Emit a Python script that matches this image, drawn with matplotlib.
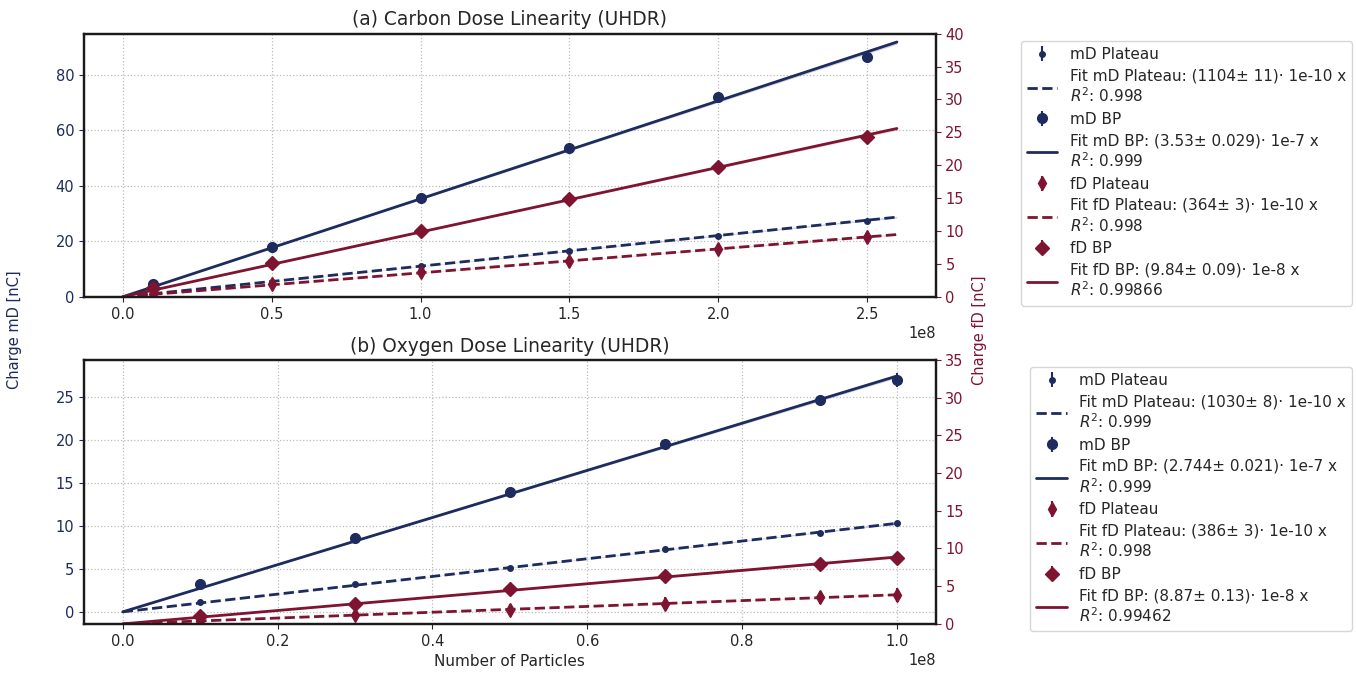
import numpy as np
import matplotlib
matplotlib.use("Agg")
import matplotlib.pyplot as plt
import seaborn as sns

sns.set_style("ticks")
plt.rcParams['font.family'] = ['DejaVu Sans']

BLUE = '#1d2b5f'
RED = '#7f1431'

# ---- (a) Carbon ----
c_x = np.array([0.1, 0.5, 1.0, 1.5, 2.0, 2.5]) * 1e8
c_md_plat = [1.1, 5.5, 11.0, 16.6, 22.0, 27.3]
c_md_plat_err = [0.1, 0.2, 0.3, 0.4, 0.5, 0.6]
c_md_bp = [4.5, 18.0, 35.7, 53.5, 72.0, 86.5]
c_md_bp_err = [0.3, 0.5, 0.8, 1.0, 1.2, 1.5]
c_fd_plat = [0.5, 1.9, 3.7, 5.5, 7.3, 9.1]
c_fd_plat_err = [0.2, 0.4, 0.4, 0.5, 0.5, 0.6]
c_fd_bp = [1.3, 5.2, 10.0, 14.8, 19.8, 24.3]
c_fd_bp_err = [0.3, 0.4, 0.5, 0.5, 0.6, 0.7]
c_fit_xmax = 2.6e8
c_fits = {  # slope, slope error, legend text
    'md_plat': (1104e-10, 11e-10, 'Fit mD Plateau: (1104± 11)· 1e-10 x\n$R^2$: 0.998'),
    'md_bp': (3.53e-7, 0.029e-7, 'Fit mD BP: (3.53± 0.029)· 1e-7 x\n$R^2$: 0.999'),
    'fd_plat': (364e-10, 3e-10, 'Fit fD Plateau: (364± 3)· 1e-10 x\n$R^2$: 0.998'),
    'fd_bp': (9.84e-8, 0.09e-8, 'Fit fD BP: (9.84± 0.09)· 1e-8 x\n$R^2$: 0.99866'),
}

# ---- (b) Oxygen ----
o_x = np.array([0.1, 0.3, 0.5, 0.7, 0.9, 1.0]) * 1e8
o_md_plat = [1.1, 3.2, 5.1, 7.3, 9.2, 10.3]
o_md_plat_err = [0.05, 0.08, 0.1, 0.12, 0.15, 0.15]
o_md_bp = [3.2, 8.6, 13.9, 19.5, 24.6, 27.0]
o_md_bp_err = [0.2, 0.3, 0.3, 0.4, 0.4, 0.8]
o_fd_plat = [0.4, 1.2, 1.9, 2.7, 3.5, 3.8]
o_fd_plat_err = [0.6, 0.7, 0.7, 0.8, 0.8, 0.9]
o_fd_bp = [1.0, 2.7, 4.6, 6.3, 7.9, 8.7]
o_fd_bp_err = [0.3, 0.4, 0.4, 0.5, 0.5, 0.5]
o_fit_xmax = 1.0e8
o_fits = {
    'md_plat': (1030e-10, 8e-10, 'Fit mD Plateau: (1030± 8)· 1e-10 x\n$R^2$: 0.999'),
    'md_bp': (2.744e-7, 0.021e-7, 'Fit mD BP: (2.744± 0.021)· 1e-7 x\n$R^2$: 0.999'),
    'fd_plat': (386e-10, 3e-10, 'Fit fD Plateau: (386± 3)· 1e-10 x\n$R^2$: 0.998'),
    'fd_bp': (8.87e-8, 0.13e-8, 'Fit fD BP: (8.87± 0.13)· 1e-8 x\n$R^2$: 0.99462'),
}


def fit_line(ax, xmax, fit, color, ls):
    k, dk, lab = fit
    xx = np.linspace(0, xmax, 100)
    ax.fill_between(xx, (k - dk) * xx, (k + dk) * xx, color=color, alpha=0.2, lw=0)
    return ax.plot(xx, k * xx, color=color, ls=ls, lw=2, label=lab)[0]


def panel(ax, x, mdp, mdpe, mdb, mdbe, fdp, fdpe, fdb, fdbe, xmax, fits,
          ylim_l, ylim_r, yticks_l, title, legend_top):
    ax2 = ax.twinx()
    h = []
    h.append(ax.errorbar(x, mdp, yerr=mdpe, fmt='o', ms=4, color=BLUE, label='mD Plateau'))
    h.append(fit_line(ax, xmax, fits['md_plat'], BLUE, '--'))
    h.append(ax.errorbar(x, mdb, yerr=mdbe, fmt='o', ms=7, color=BLUE, label='mD BP'))
    h.append(fit_line(ax, xmax, fits['md_bp'], BLUE, '-'))
    h.append(ax2.errorbar(x, fdp, yerr=fdpe, fmt='d', ms=7, color=RED, label='fD Plateau'))
    h.append(fit_line(ax2, xmax, fits['fd_plat'], RED, '--'))
    h.append(ax2.errorbar(x, fdb, yerr=fdbe, fmt='D', ms=7, color=RED, label='fD BP'))
    h.append(fit_line(ax2, xmax, fits['fd_bp'], RED, '-'))

    ax.set_ylim(*ylim_l)
    ax2.set_ylim(*ylim_r)
    ax.set_yticks(yticks_l)
    ax.grid(True, ls=':', color='#bbbbbb', lw=0.9)
    ax.tick_params(axis='y', colors=BLUE, labelsize=10.5)
    ax.tick_params(axis='x', labelsize=10.5, colors='#262626')
    ax2.tick_params(axis='y', colors=RED, labelsize=10.5)
    for a in (ax, ax2):
        for s in a.spines.values():
            s.set_color('#1a1a1a')
            s.set_linewidth(1.6)
    ax.xaxis.get_offset_text().set_fontsize(10.5)
    ax.set_title(title, fontsize=13.4, color='#262626')
    ax.legend(h, [hh.get_label() for hh in h], loc='upper right',
              bbox_to_anchor=(0.997, legend_top), bbox_transform=fig.transFigure,
              borderaxespad=0, labelspacing=0.42, fontsize=11, frameon=True)
    return ax2


fig = plt.figure(figsize=(13.56, 6.73), dpi=100)
ax_a = fig.add_axes([0.062, 0.559, 0.628, 0.391])
ax_b = fig.add_axes([0.062, 0.073, 0.628, 0.392])

panel(ax_a, c_x, c_md_plat, c_md_plat_err, c_md_bp, c_md_bp_err,
      c_fd_plat, c_fd_plat_err, c_fd_bp, c_fd_bp_err, c_fit_xmax, c_fits,
      (0, 94.8), (0, 40), [0, 20, 40, 60, 80],
      '(a) Carbon Dose Linearity (UHDR)', 0.939)
panel(ax_b, o_x, o_md_plat, o_md_plat_err, o_md_bp, o_md_bp_err,
      o_fd_plat, o_fd_plat_err, o_fd_bp, o_fd_bp_err, o_fit_xmax, o_fits,
      (-1.4, 29.3), (0, 35), [0, 5, 10, 15, 20, 25],
      '(b) Oxygen Dose Linearity (UHDR)', 0.455)

ax_b.set_xlabel('Number of Particles', fontsize=11, color='#262626')
fig.text(0.011, 0.51, 'Charge mD [nC]', rotation=90, va='center', ha='center',
         color=BLUE, fontsize=10.5)
fig.text(0.722, 0.51, 'Charge fD [nC]', rotation=90, va='center', ha='center',
         color=RED, fontsize=10.5)

fig.savefig('out.png', dpi=100)
